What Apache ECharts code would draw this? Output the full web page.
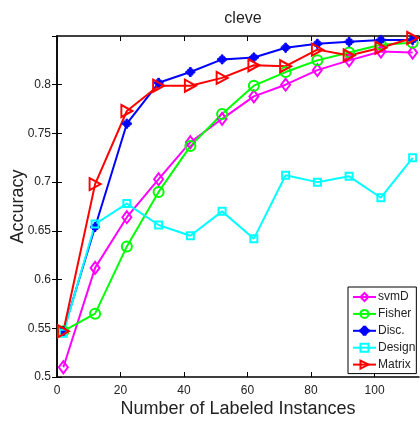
<!DOCTYPE html>
<html><head><meta charset="utf-8">
<script src="https://cdn.jsdelivr.net/npm/echarts@6/dist/echarts.min.js"></script>
<style>html,body{margin:0;padding:0;background:#fff}#c{width:420px;height:421px}</style>
</head><body><div id="c"></div>
<script>
const xs = [2,12,22,32,42,52,62,72,82,92,102,112];
const svmD   = [0.510,0.612,0.664,0.703,0.741,0.765,0.788,0.800,0.815,0.825,0.834,0.833];
const fisher = [0.547,0.565,0.634,0.690,0.737,0.770,0.799,0.813,0.825,0.833,0.841,0.843];
const disc   = [0.547,0.654,0.760,0.802,0.813,0.826,0.828,0.838,0.842,0.844,0.846,0.846];
const design = [0.545,0.657,0.678,0.656,0.645,0.670,0.642,0.707,0.700,0.706,0.684,0.725];
const matrix = [0.547,0.698,0.773,0.799,0.799,0.807,0.820,0.819,0.836,0.830,0.838,0.848];
const names = ['svmD','Fisher','Disc.','Design','Matrix'];
const xTicks = [0,20,40,60,80,100];
const yTicks = [0.5,0.55,0.6,0.65,0.7,0.75,0.8];

const font = '"Liberation Sans", Arial, Helvetica, sans-serif';
const pts = v => xs.map((x,i)=>[x,v[i]]);
const star = 'path://M-1,-5L1,-5L1,5L-1,5Z M-5,-1L5,-1L5,1L-5,1Z M2.19,3.47L-3.47,-2.19L-2.19,-3.47L3.47,2.19Z M3.47,-2.19L-2.19,3.47L-3.47,2.19L2.19,-3.47Z';
const triRight = 'path://M0,0L10,5L0,10Z';

function ser(name, data, color, symbol, size, empty){
  return {
    name, type:'line', data: pts(data), symbol, symbolSize:size,
    showAllSymbol:true,
    lineStyle:{color, width:2},
    itemStyle: empty ? {color:'rgba(255,255,255,0)', borderColor:color, borderWidth:2}
                     : {color, borderColor:color, borderWidth:1},
    emphasis:{disabled:true}, animation:false, z: 2
  };
}

const chart = echarts.init(document.getElementById('c'), null, {renderer:'canvas'});
const axisLine = {show:true, lineStyle:{color:'#000', width:1.5}};
chart.setOption({
  backgroundColor:'#fff',
  animation:false,
  title:{text:'cleve', left:238, textAlign:'center', top:6,
    textStyle:{fontFamily:font, fontSize:16, fontWeight:'normal', color:'#222'}},
  grid:{left:57, top:36, right:1, bottom:44, containLabel:false, outerBoundsMode:'none'},
  legend:{
    orient:'vertical', left:348, top:287, padding:[4,1,3,4], itemGap:4.9,
    itemWidth:23, itemHeight:10, borderColor:'#000', borderWidth:1, backgroundColor:'#fff',
    borderRadius:0,
    textStyle:{fontFamily:font, fontSize:12, color:'#222', padding:[0,0,0,-3]},
    data:names
  },
  xAxis:[{
    type:'value', min:0, max:114, interval:20,
    name:'Number of Labeled Instances', nameLocation:'middle', nameGap:23, nameMoveOverlap:false,
    nameTextStyle:{fontFamily:font, fontSize:18, color:'#222'},
    axisLine, axisTick:{show:true, inside:true, length:5, lineStyle:{color:'#000'}},
    axisLabel:{fontFamily:font, fontSize:12, color:'#222', margin:8, showMaxLabel:false,
      formatter: v => xTicks.includes(v) ? String(v) : ''},
    splitLine:{show:false}
  },{
    type:'value', min:0, max:114, interval:20, position:'top',
    axisLine, axisTick:{show:true, inside:true, length:5, lineStyle:{color:'#000'}},
    axisLabel:{show:false}, splitLine:{show:false}
  }],
  yAxis:[{
    type:'value', min:0.5, max:0.85, interval:0.05,
    name:'Accuracy', nameLocation:'middle', nameGap:30, nameMoveOverlap:false,
    nameTextStyle:{fontFamily:font, fontSize:18, color:'#222'},
    axisLine, axisTick:{show:true, inside:true, length:5, lineStyle:{color:'#000'}},
    axisLabel:{fontFamily:font, fontSize:12, color:'#222', margin:6, showMaxLabel:false,
      formatter: v => { const r = Math.round(v*100)/100; return yTicks.some(t=>Math.abs(t-r)<1e-9) ? String(r) : ''; }},
    splitLine:{show:false}
  },{
    type:'value', min:0.5, max:0.85, interval:0.05, position:'right',
    axisLine, axisTick:{show:true, inside:true, length:5, lineStyle:{color:'#000'}},
    axisLabel:{show:false}, splitLine:{show:false}
  }],
  series:[
    ser('svmD', svmD, '#ff00ff', 'diamond', [9,12], true),
    ser('Fisher', fisher, '#00ff00', 'circle', 10, true),
    ser('Disc.', disc, '#0000ff', star, 9, false),
    ser('Design', design, '#00ffff', 'rect', 7, true),
    ser('Matrix', matrix, '#ff0000', triRight, [11,12], true)
  ]
});
</script></body></html>
